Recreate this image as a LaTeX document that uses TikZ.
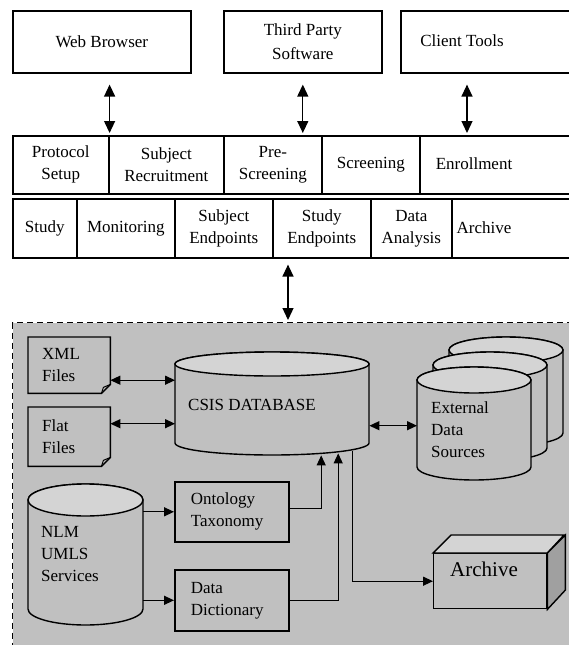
\documentclass[tikz,border=0pt]{standalone}
\usepackage{fontspec}
\setmainfont{Liberation Serif}
\usetikzlibrary{arrows.meta,calc}
\definecolor{bggray}{RGB}{192,192,192}
\definecolor{toplight}{RGB}{212,212,212}
\definecolor{sidedark}{RGB}{160,160,160}
\newcommand\drawcyl[5]{%
  \pgfmathsetmacro\cylrx{(#2-#1)/2}%
  \draw[line width=1.4pt, fill=bggray] (#1,-#3) -- (#1,-#4)
    arc[start angle=180, end angle=360, x radius=\cylrx pt, y radius=#5 pt]
    -- (#2,-#3)
    arc[start angle=0, end angle=180, x radius=\cylrx pt, y radius=#5 pt] -- cycle;
  \draw[line width=1.4pt, fill=toplight] ({(#1+#2)/2},-#3) ellipse[x radius=\cylrx pt, y radius=#5 pt];
}
\begin{document}
\begin{tikzpicture}[x=1pt,y=1pt,
  lbl/.style={font=\fontsize{17}{22}\selectfont, align=center, inner sep=0pt},
  box/.style={lbl, draw, line width=1.6pt, anchor=north west},
  inbox/.style={box, fill=bggray, align=left, text width=82pt, inner xsep=16pt},
  ghost/.style={inner sep=0pt, anchor=north west},
  bigarr/.style={line width=1.3pt, {Triangle[length=12pt,width=11pt]}-{Triangle[length=12pt,width=11pt]}},
  arr/.style={line width=1.3pt, -{Triangle[length=10pt,width=9pt]}},
  darr/.style={line width=1.3pt, {Triangle[length=10pt,width=9pt]}-{Triangle[length=10pt,width=9pt]}},
  face/.style={line width=1.4pt}]
\useasboundingbox (0,0) rectangle (569,-645);
\clip (0,0) rectangle (569,-645);

% top boxes
\node[box, minimum width=178, minimum height=62] (wb) at (12,-10) {Web Browser};
\node[box, minimum width=158, minimum height=62] (tp) at (223,-10) {Third Party\\[2pt]Software};
\node[box, minimum width=175, minimum height=62] (ct) at (400,-10) {};
\node[lbl] (cttxt) at (462,-41) {Client Tools};

% row 1
\node[box, minimum width=96, minimum height=58] (ps) at (12,-135) {Protocol\\Setup};
\node[box, minimum width=115, minimum height=58] (sr) at (108,-135) {Subject\\Recruitment};
\node[box, minimum width=98, minimum height=58] (pre) at (223,-135) {Pre-\\Screening};
\node[box, minimum width=98, minimum height=58] (scr) at (321,-135) {Screening};
\node[box, minimum width=155, minimum height=58] (en) at (419,-135) {};
\node[lbl] (entxt) at (474,-164) {Enrollment};

% row 2
\node[box, minimum width=64, minimum height=59] (st) at (12,-198) {Study};
\node[box, minimum width=98, minimum height=59] (mon) at (76,-198) {Monitoring};
\node[box, minimum width=98, minimum height=59] (sep) at (174,-198) {Subject\\Endpoints};
\node[box, minimum width=98, minimum height=59] (sten) at (272,-198) {Study\\Endpoints};
\node[box, minimum width=81, minimum height=59] (da) at (370,-198) {Data\\Analysis};
\node[box, minimum width=123, minimum height=59] (ar) at (451,-198) {};
\node[lbl] (artxt) at (484,-228) {Archive};

% arrows top
\draw[bigarr, shorten <=11pt, shorten >=2pt] (wb.south -| ps.north east) -- (ps.north east);
\draw[bigarr, shorten <=11pt, shorten >=2pt] (tp.south) -- (tp.south |- pre.north);
\coordinate (cta) at ($(ct.south west)+(67,0)$);
\draw[bigarr, shorten <=11pt, shorten >=2pt] (cta) -- (cta |- en.north);

% system area
\node[draw, dash pattern=on 6pt off 4pt, line width=1.1pt, fill=bggray, ghost,
      minimum width=570, minimum height=340] (sys) at (12,-322) {};
\coordinate (sea) at ([xshift=16pt]sten.south west);
\draw[bigarr, shorten <=6pt, shorten >=2pt] (sea) -- (sea |- sys.north);

% cylinders
\drawcyl{449}{563}{350}{433}{13}
\drawcyl{433}{547}{365}{448}{13}
\drawcyl{417}{531}{380}{467}{13}
\drawcyl{175}{369}{364}{443}{12}
\drawcyl{28}{143}{500}{609}{16}

\node[ghost, minimum width=194, minimum height=91] (csis) at (175,-364) {};
\node[lbl, anchor=west] (csislbl) at (188,-405) {CSIS DATABASE};
\node[ghost, minimum width=114, minimum height=87] (ext) at (417,-380) {};
\node[lbl, align=left, anchor=west] (extlbl) at (431,-430) {External\\Data\\Sources};
\node[ghost, minimum width=115, minimum height=109] (nlm) at (28,-500) {};
\node[lbl, align=left, anchor=west] (nlmlbl) at (41,-554) {NLM\\UMLS\\Services};

% documents
\node[lbl, align=left, text width=54pt, inner xsep=14pt, minimum height=56, anchor=north west] (xml) at (28,-337) {XML\\Files};
\node[lbl, align=left, text width=54pt, inner xsep=14pt, minimum height=59, anchor=north west] (flat) at (28,-407) {Flat\\Files};
\foreach \d in {xml,flat}{
  \draw[face] (\d.north west) -- (\d.north east) -- ([yshift=9pt]\d.south east)
    -- ([xshift=-9pt]\d.south east) -- (\d.south west) -- cycle;
  \draw[line width=1pt] ([xshift=-9pt]\d.south east) -- ([xshift=-7pt,yshift=6pt]\d.south east) -- ([yshift=9pt]\d.south east);
}

% inner boxes
\node[inbox, minimum height=60] (onto) at (174,-481) {Ontology\\Taxonomy};
\node[inbox, minimum height=61] (dd) at (174,-569) {Data\\Dictionary};

% archive 3D box
\node[draw, face, fill=bggray, ghost, minimum width=113, minimum height=55] (arch) at (433,-553) {};
\draw[face, fill=toplight] (arch.north west) -- ++(18,18) -- ++(113,0) -- (arch.north east) -- cycle;
\draw[face, fill=sidedark] (arch.north east) -- ++(18,18) -- ++(0,-55) -- (arch.south east) -- cycle;
\node[font=\fontsize{21}{24}\selectfont, inner sep=0pt] (archlbl) at (484,-569) {Archive};

% connectors
\draw[darr] ([yshift=-15pt]xml.east) -- ([yshift=-15pt]xml.east -| csis.west);
\draw[darr] ([yshift=13pt]flat.east) -- ([yshift=13pt]flat.east -| csis.west);
\draw[darr] ([yshift=-16pt]csis.east) -- ([yshift=-16pt]csis.east -| ext.west);
\draw[arr] (onto.west -| nlm.east) -- (onto.west);
\draw[arr] (dd.west -| nlm.east) -- (dd.west);
\draw[arr] ([yshift=3pt]onto.east) -| ([xshift=49pt]csis.south);
\draw[arr] (dd.east) -| ([xshift=66pt,yshift=2pt]csis.south);
\draw[arr] ([xshift=80pt,yshift=4pt]csis.south) |- (arch.west);
\end{tikzpicture}
\end{document}
